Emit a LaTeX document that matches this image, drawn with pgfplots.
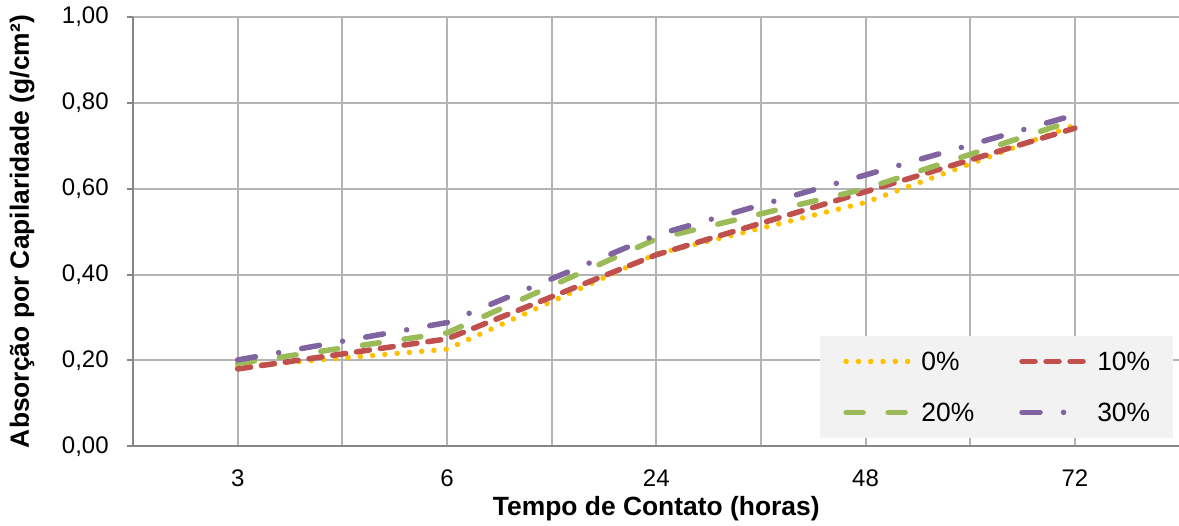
\documentclass[border=0pt]{standalone}
\usepackage{pgfplots}
\pgfplotsset{compat=1.18}
\usepackage{fontspec}
\setmainfont{Liberation Sans}

\definecolor{cYellow}{HTML}{FFC000}
\definecolor{cRed}{HTML}{C0504D}
\definecolor{cGreen}{HTML}{9BBB59}
\definecolor{cPurple}{HTML}{8064A2}
\definecolor{gridgray}{HTML}{B4B4B4}
\definecolor{axisgray}{HTML}{868686}
\definecolor{legendgray}{HTML}{F2F2F2}

\begin{document}
\begin{tikzpicture}
\begin{axis}[
  scale only axis,
  width=523pt, height=214.5pt,
  xmin=-0.5, xmax=4.5,
  ymin=0, ymax=1,
  xtick={0,1,2,3,4},
  xticklabels={3,6,24,48,72},
  minor xtick={-0.5,0.5,1.5,2.5,3.5,4.5},
  ytick={0,0.2,0.4,0.6,0.8,1.0},
  xmajorgrids=true, xminorgrids=true, ymajorgrids=true,
  grid style={gridgray, line width=1pt},
  minor grid style={gridgray, line width=1pt},
  axis x line*=bottom, axis y line*=left,
  axis line style={axisgray, line width=1pt, -},
  x tick style={draw=none},
  minor x tick style={draw=none},
  y tick style={axisgray, line width=1pt},
  tick align=outside,
  major tick length=3pt,
  ticklabel style={font=\fontsize{12}{14}\selectfont},
  xticklabel style={anchor=base, yshift=-17.35pt},
  yticklabel style={anchor=east, inner sep=0pt, xshift=-9pt,
    /pgf/number format/.cd, use comma, fixed, fixed zerofill, precision=2,
    assume math mode=true},
  xlabel={Tempo de Contato (horas)},
  ylabel={Absorção por Capilaridade (g/cm²)},
  label style={font=\fontsize{13.2}{15}\selectfont\bfseries},
  xlabel style={at={(axis description cs:0.5,0)}, anchor=center, yshift=-31pt},
  ylabel style={at={(axis description cs:-0.1061,0.5)}, anchor=center},
  every axis plot/.append style={line width=2.75pt, line cap=round},
  legend image code/.code={\draw[#1] (1.25pt,0pt) -- (32.5pt,0pt);},
  legend columns=2,
  legend style={
    at={(axis cs:2.782,0.0186)}, anchor=south west,
    fill=legendgray, draw=none,
    inner xsep=11.5pt, inner ysep=8pt,
    font=\fontsize{13.2}{15}\selectfont,
    nodes={inner sep=0pt, text height=9.45pt, text depth=0pt},
    /tikz/row sep=16pt,
    /tikz/every odd column/.append style={column sep=5pt},
    /tikz/every even column/.append style={column sep=22.5pt},
  },
  legend cell align=left,
]
% 0% series
\addplot[cYellow, dash pattern={on 0pt off 6.15pt}] coordinates {
  (0,0.185) (1,0.226) (2,0.448) (3,0.568) (4,0.748)};
\addlegendentry{0\%}
% 10% series
\addplot[cRed, dash pattern={on 6.5pt off 5.5pt}] coordinates {
  (0,0.180) (1,0.250) (2,0.446) (3,0.593) (4,0.741)};
\addlegendentry{10\%}
% 20% series
\addplot[cGreen, dash pattern={on 8.5pt off 12.5pt}] coordinates {
  (0,0.193) (1,0.264) (2,0.483) (3,0.600) (4,0.760)};
\addlegendentry{20\%}
% 30% series
\addplot[cPurple, dash pattern={on 9pt off 11.75pt on 0pt off 11.75pt}] coordinates {
  (0,0.201) (1,0.288) (2,0.492) (3,0.632) (4,0.772)};
\addlegendentry{30\%}
\end{axis}
\pgfresetboundingbox
\path (current axis.south west) ++(-66.5pt,-39.5pt) rectangle
  ([shift={(-0.25pt,8.5pt)}]current axis.north east);
\end{tikzpicture}
\end{document}
